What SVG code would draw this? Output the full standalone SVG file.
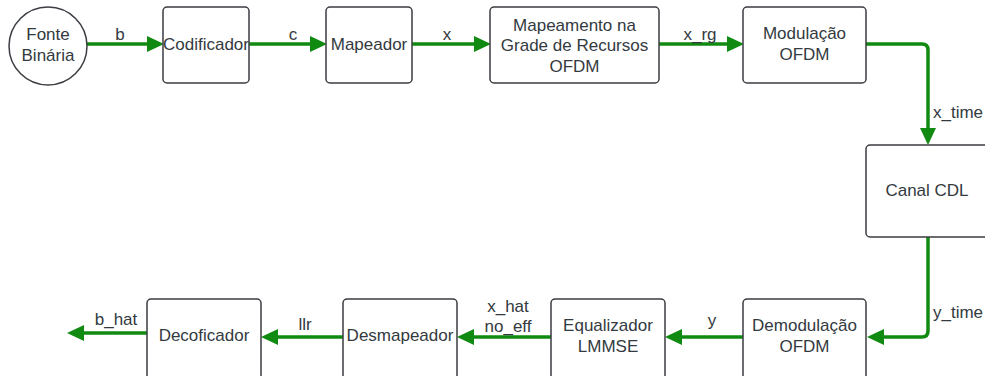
<svg xmlns="http://www.w3.org/2000/svg" width="985" height="376" viewBox="0 0 985 376">
<defs>
<style>
.n{fill:#fff;stroke:#3a3d42;stroke-width:1.5}
.t{font-family:"Liberation Sans",Arial,sans-serif;font-size:17px;fill:#333a40;text-anchor:middle}
.e{fill:none;stroke:#108a10;stroke-width:3.5}
.h{fill:#108a10}
</style>
</defs>
<rect width="985" height="376" fill="#fff"/>
<g id="connectors">
<path class="e" d="M87,44 H154"/>
<path class="h" d="M147,36 L164,44 L147,52 Z"/>
<path class="e" d="M249,44 H317"/>
<path class="h" d="M310,36 L327,44 L310,52 Z"/>
<path class="e" d="M412,44 H481"/>
<path class="h" d="M474,36 L491,44 L474,52 Z"/>
<path class="e" d="M659,44 H734"/>
<path class="h" d="M727,36 L744,44 L727,52 Z"/>
<path class="e" d="M866,44 H922 Q928,44 928,50 V136"/>
<path class="h" d="M920,128 L928,145 L936,128 Z"/>
<path class="e" d="M928,237 V331 Q928,337 922,337 H876"/>
<path class="h" d="M884,329 L867,337 L884,345 Z"/>
<path class="e" d="M743,337 H674"/>
<path class="h" d="M682,329 L665,337 L682,345 Z"/>
<path class="e" d="M551,337 H466"/>
<path class="h" d="M474,329 L457,337 L474,345 Z"/>
<path class="e" d="M343,337 H270"/>
<path class="h" d="M278,329 L261,337 L278,345 Z"/>
<path class="e" d="M147,333 H76"/>
<path class="h" d="M84,325 L67,333 L84,341 Z"/>
<text class="t" x="120" y="40">b</text>
<text class="t" x="293" y="40">c</text>
<text class="t" x="447" y="40">x</text>
<text class="t" x="700" y="40">x_rg</text>
<text class="t" x="958" y="118">x_time</text>
<text class="t" x="958" y="318">y_time</text>
<text class="t" x="712" y="326">y</text>
<text class="t" x="508" y="312">x_hat</text>
<text class="t" x="508" y="332">no_eff</text>
<text class="t" x="305" y="330">llr</text>
<text class="t" x="116" y="325">b_hat</text>
</g>
<g id="fonte">
<circle class="n" cx="48" cy="46" r="39"/>
<text class="t" x="48" y="40">Fonte</text>
<text class="t" x="48" y="61">Binária</text>
</g>
<g id="codificador">
<rect class="n" x="163" y="7" width="86" height="76" rx="4"/>
<text class="t" x="206" y="50">Codificador</text>
</g>
<g id="mapeador">
<rect class="n" x="326" y="7" width="86" height="76" rx="4"/>
<text class="t" x="369" y="50">Mapeador</text>
</g>
<g id="grade">
<rect class="n" x="490" y="7" width="169" height="76" rx="4"/>
<text class="t" x="574.5" y="31">Mapeamento na</text>
<text class="t" x="574.5" y="51">Grade de Recursos</text>
<text class="t" x="574.5" y="72">OFDM</text>
</g>
<g id="modulacao">
<rect class="n" x="743" y="7" width="123" height="76" rx="4"/>
<text class="t" x="804.5" y="39">Modulação</text>
<text class="t" x="804.5" y="60">OFDM</text>
</g>
<g id="canal">
<rect class="n" x="866" y="145" width="124" height="92" rx="4"/>
<text class="t" x="927" y="196">Canal CDL</text>
</g>
<g id="demodulacao">
<rect class="n" x="743" y="299" width="123" height="80" rx="4"/>
<text class="t" x="804.5" y="331">Demodulação</text>
<text class="t" x="804.5" y="352">OFDM</text>
</g>
<g id="equalizador">
<rect class="n" x="551" y="299" width="114" height="80" rx="4"/>
<text class="t" x="608" y="331">Equalizador</text>
<text class="t" x="608" y="352">LMMSE</text>
</g>
<g id="desmapeador">
<rect class="n" x="343" y="299" width="114" height="80" rx="4"/>
<text class="t" x="400" y="341">Desmapeador</text>
</g>
<g id="decoficador">
<rect class="n" x="147" y="299" width="114" height="80" rx="4"/>
<text class="t" x="204" y="341">Decoficador</text>
</g>
</svg>
